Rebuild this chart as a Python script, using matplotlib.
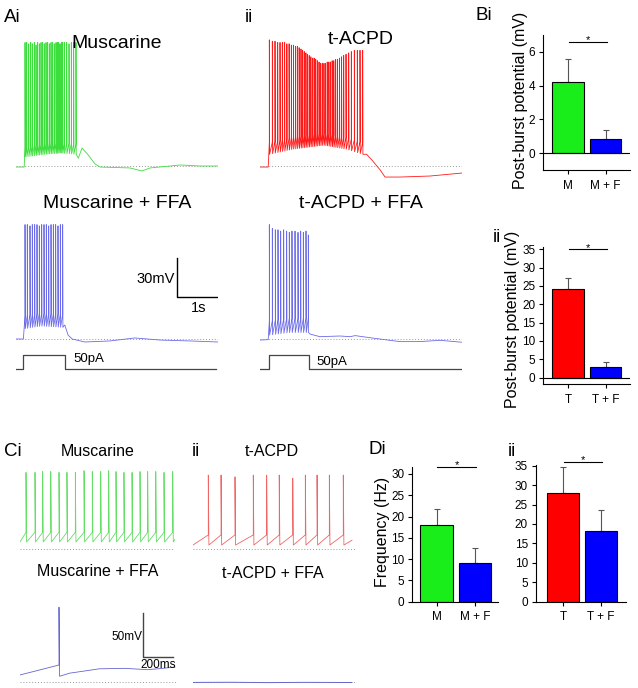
import numpy as np
import matplotlib
matplotlib.use('Agg')
import matplotlib.pyplot as plt

plt.rcParams['font.family'] = ['Liberation Sans', 'DejaVu Sans']

# ---------------- data: panel A (time in s, voltage in mV above dotted baseline)
musc_pre_t = [0.0, 0.2]
musc_pre_v = [-0.8, -0.8]
musc_spk_t = [0.220, 0.260, 0.309, 0.358, 0.398, 0.447, 0.488, 0.528, 0.569, 0.610,
              0.650, 0.691, 0.732, 0.772, 0.813, 0.854, 0.894, 0.935, 0.976, 1.008,
              1.041, 1.073, 1.106, 1.138, 1.179, 1.236, 1.293, 1.350, 1.406, 1.463]
musc_spk_v = [95, 95, 94, 95, 94, 95, 93, 95, 94, 95, 95, 94, 95, 95, 94,
              95, 95, 94, 95, 95, 95, 94, 95, 95, 95, 95, 94, 95, 95, 95]
musc_floor_t = [0.22, 0.7, 1.1, 1.46]
musc_floor_v = [7, 9, 10, 9]
musc_post_t = [1.52, 1.61, 1.76, 1.93, 2.05, 2.78, 3.07, 3.27, 3.76, 4.0, 4.49, 4.93]
musc_post_v = [6, 13.8, 8.5, 1.5, -0.8, -1.5, -3.8, -1.5, 0, 0.8, 0, 0]

acpd_pre_t = [0.0, 0.2]
acpd_pre_v = [-0.8, -0.8]
acpd_spk_t = [0.228, 0.301, 0.366, 0.431, 0.488, 0.545, 0.600, 0.655, 0.710, 0.765,
              0.815, 0.865, 0.910, 0.955, 1.000, 1.040, 1.080, 1.120, 1.160, 1.200,
              1.240, 1.280, 1.320, 1.360, 1.400, 1.440, 1.480, 1.520, 1.560, 1.600,
              1.640, 1.680, 1.720, 1.760, 1.800, 1.845, 1.890, 1.940, 1.990, 2.041,
              2.098, 2.163, 2.228, 2.301, 2.374, 2.439, 2.504]
acpd_spk_v = [97, 96, 96, 95, 95, 95, 95, 94, 94, 93, 93, 92, 92, 91, 90, 89, 88, 87, 86, 85,
              84, 83, 83, 82, 81, 80, 79, 79, 79, 79, 80, 80, 80, 81, 81, 82, 82, 83, 84, 85,
              86, 87, 88, 89, 89, 89, 89]
acpd_floor_t = [0.228, 0.8, 1.55, 2.1, 2.5]
acpd_floor_v = [9, 13, 16, 13, 9]
acpd_post_t = [2.6, 2.73, 2.93, 3.05, 3.41, 4.15, 4.93]
acpd_post_v = [9, 4.6, -3, -8.5, -8.5, -7.7, -5.4]

muscffa_pre_t = [0.0, 0.18]
muscffa_pre_v = [0, 0]
muscffa_spk_t = [0.220, 0.276, 0.341, 0.398, 0.455, 0.512, 0.569, 0.626, 0.683,
                 0.740, 0.797, 0.854, 0.911, 0.967, 1.024, 1.081, 1.138]
muscffa_spk_v = [88, 88, 87, 88, 88, 88, 87, 88, 88, 88, 87, 88, 88, 88, 87, 88, 88]
muscffa_floor_t = [0.22, 0.6, 1.14]
muscffa_floor_v = [8, 10, 9]
muscffa_post_t = [1.19, 1.27, 1.37, 1.68, 2.29, 2.9, 3.51, 4.24, 4.93]
muscffa_post_v = [10.8, 3, 0, -2.3, -1.5, 0.8, -0.8, -1.5, -2.3]

acpdffa_pre_t = [0.0, 0.2]
acpdffa_pre_v = [-0.8, -0.5]
acpdffa_spk_t = [0.228, 0.301, 0.374, 0.439, 0.504, 0.577, 0.650, 0.715, 0.780,
                 0.854, 0.927, 0.992, 1.057, 1.122, 1.179]
acpdffa_spk_v = [88, 85, 84, 84, 83, 84, 83, 82, 83, 83, 82, 83, 82, 83, 80]
acpdffa_floor_t = [0.228, 0.7, 1.18]
acpdffa_floor_v = [3, 5, 5]
acpdffa_post_t = [1.22, 1.46, 1.95, 2.2, 2.32, 2.8, 3.41, 3.9, 4.39, 4.93]
acpdffa_post_v = [3.8, 1.8, 2.3, 1.8, 2.6, 0.5, -2, -2, -1, -2.5]

# injected current (pA)
step_i_t = [0, 0.18, 0.18, 1.195, 1.195, 4.88]
step_ii_t = [0, 0.228, 0.228, 1.195, 1.195, 4.93]
step_amp = [0, 0, 50, 50, 0, 0]

# ---------------- data: panel C
cmusc_spk_t = [0.040, 0.100, 0.151, 0.205, 0.260, 0.313, 0.369, 0.427, 0.482, 0.538,
               0.591, 0.640, 0.693, 0.747, 0.800, 0.851, 0.905, 0.960, 1.018]
cmusc_spk_v = [87, 87, 88, 88, 87, 87, 87, 89, 88, 88, 89, 88, 87, 87, 88, 88, 88, 87, 88]
cacpd_spk_t = [0.102, 0.187, 0.280, 0.402, 0.491, 0.575, 0.665, 0.749, 0.827, 0.909, 1.002]
cacpd_spk_v = [84, 84, 82, 84, 84, 84, 80.5, 84, 84, 84, 84]
cmuscffa_spk_t = [0.26]
cmuscffa_spk_v = [85]
cmuscffa_post_t = [0.33, 0.45, 0.53, 0.7, 0.85, 0.95, 1.033]
cmuscffa_post_v = [10, 13, 15, 15.5, 14, 15.5, 17]
cacpdffa_t = [0, 0.25, 0.5, 0.75, 1.06]
cacpdffa_v = [-0.5, -0.3, -0.7, -0.4, -0.6]

# ---------------- data: bar panels
bi_labels = ['M', 'M + F']
bi_vals = [4.2, 0.85]
bi_err = [1.4, 0.5]
bii_labels = ['T', 'T + F']
bii_vals = [24.3, 3.0]
bii_err = [2.8, 1.2]
di_vals = [18.1, 9.1]
di_err = [3.6, 3.4]
dii_vals = [28.0, 18.3]
dii_err = [6.7, 5.3]

GREEN, RED, BLUE = '#1aee1a', '#ff0000', '#0000ff'

W, H = 638, 688
fig = plt.figure(figsize=(W / 100, H / 100), dpi=100)


def px_axes(left, top, right, bottom):
    return fig.add_axes([left / W, 1 - bottom / H, (right - left) / W, (bottom - top) / H])


def ftext(x, y, s, **kw):
    fig.text(x / W, 1 - y / H, s, **kw)


def trace_axes(left, right, top, bottom, base_y, px_s, px_mv):
    ax = px_axes(left, top, right, bottom)
    ax.set_xlim(0, (right - left) / px_s)
    ax.set_ylim((base_y - bottom) / px_mv, (base_y - top) / px_mv)
    ax.axis('off')
    return ax


def build_trace(pre_t, pre_v, spk_t, spk_v, floor_t, floor_v, ramp, post_t, post_v, width):
    base = np.interp(spk_t, floor_t, floor_v)
    t, v = list(pre_t), list(pre_v)
    for ts, pk, fl in zip(spk_t, spk_v, base):
        t += [ts, ts, ts + width]
        v += [fl + ramp, pk, fl]
    return t + list(post_t), v + list(post_v)


def dotted(ax):
    ax.axhline(0, color='#999999', lw=0.7, ls=(0, (1, 2)), zorder=0)


# ---------------- panel A traces (41 px/s, 1.3 px/mV)
ax = trace_axes(16, 218, 30, 180, 166, 41, 1.3)
dotted(ax)
t, v = build_trace(musc_pre_t, musc_pre_v, musc_spk_t, musc_spk_v, musc_floor_t,
                   musc_floor_v, 8, musc_post_t, musc_post_v, 0.006)
ax.plot(t, v, color='#3ddd3d', lw=0.6)

ax = trace_axes(260, 462, 30, 185, 166, 41, 1.3)
dotted(ax)
t, v = build_trace(acpd_pre_t, acpd_pre_v, acpd_spk_t, acpd_spk_v, acpd_floor_t,
                   acpd_floor_v, 9, acpd_post_t, acpd_post_v, 0.006)
ax.plot(t, v, color='#ff1a1a', lw=0.6)

ax = trace_axes(16, 218, 215, 348, 339, 41, 1.3)
dotted(ax)
t, v = build_trace(muscffa_pre_t, muscffa_pre_v, muscffa_spk_t, muscffa_spk_v, muscffa_floor_t,
                   muscffa_floor_v, 10, muscffa_post_t, muscffa_post_v, 0.006)
ax.plot(t, v, color='#6b6be8', lw=0.6)
# scale bar 1 s / 30 mV
ax.plot([3.927, 3.927, 4.927], [62.3, 32.3, 32.3], color='black', lw=1.0)

ax = trace_axes(260, 462, 215, 348, 339, 41, 1.3)
dotted(ax)
t, v = build_trace(acpdffa_pre_t, acpdffa_pre_v, acpdffa_spk_t, acpdffa_spk_v, acpdffa_floor_t,
                   acpdffa_floor_v, 11, acpdffa_post_t, acpdffa_post_v, 0.006)
ax.plot(t, v, color='#6b6be8', lw=0.6)

# current steps (0.28 px/pA)
for left, right, st in [(16, 218, step_i_t), (260, 462, step_ii_t)]:
    ax = trace_axes(left, right, 345, 375, 369, 41, 0.28)
    ax.plot(st, step_amp, color='#444444', lw=0.9)

ftext(4, 18, 'Ai', fontsize=13.5, ha='left', va='center')
ftext(245, 18, 'ii', fontsize=13.5, ha='left', va='center')
ftext(117, 44, 'Muscarine', fontsize=14, ha='center', va='center')
ftext(361, 40, 't-ACPD', fontsize=14, ha='center', va='center')
ftext(117, 203, 'Muscarine + FFA', fontsize=14, ha='center', va='center')
ftext(361, 203, 't-ACPD + FFA', fontsize=14, ha='center', va='center')
ftext(175, 279, '30mV', fontsize=10.5, ha='right', va='center')
ftext(199, 308, '1s', fontsize=10.5, ha='center', va='center')
ftext(73, 359, '50pA', fontsize=9.5, ha='left', va='center')
ftext(316, 362, '50pA', fontsize=9.5, ha='left', va='center')

# ---------------- panel C traces (150 px/s, 0.88 px/mV)
ax = trace_axes(20, 175, 460, 556, 549, 150, 0.88)
dotted(ax)
t, v = build_trace([0.0], [8], cmusc_spk_t, cmusc_spk_v, [0, 2], [8, 8], 11,
                   [1.033], [11], 0.004)
ax.plot(t, v, color='#66dd66', lw=0.6)

ax = trace_axes(193, 355, 460, 556, 549, 150, 0.88)
dotted(ax)
t, v = build_trace([0.0], [4.5], cacpd_spk_t, cacpd_spk_v, [0, 2], [4.5, 4.5], 11.5,
                   [1.06], [10], 0.004)
ax.plot(t, v, color='#ee6666', lw=0.6)

ax = trace_axes(20, 178, 595, 688, 682, 150, 0.88)
dotted(ax)
t, v = build_trace([0.0], [8], cmuscffa_spk_t, cmuscffa_spk_v, [0, 2], [6.5, 6.5], 12.8,
                   cmuscffa_post_t, cmuscffa_post_v, 0.004)
ax.plot(t, v, color='#6666cc', lw=0.6)
# scale bar 200 ms / 50 mV
ax.plot([0.82, 0.82, 1.02], [78.4, 28.4, 28.4], color='#444444', lw=1.0)

ax = trace_axes(193, 355, 595, 688, 682, 150, 0.88)
dotted(ax)
ax.plot(cacpdffa_t, cacpdffa_v, color='#6666cc', lw=0.7)

ftext(4, 452, 'Ci', fontsize=13.5, ha='left', va='center')
ftext(192, 452, 'ii', fontsize=13.5, ha='left', va='center')
ftext(98, 451, 'Muscarine', fontsize=11.5, ha='center', va='center')
ftext(272, 451, 't-ACPD', fontsize=11.5, ha='center', va='center')
ftext(98, 572, 'Muscarine + FFA', fontsize=11.5, ha='center', va='center')
ftext(273, 573, 't-ACPD + FFA', fontsize=11.5, ha='center', va='center')
ftext(142, 637, '50mV', fontsize=8.5, ha='right', va='center')
ftext(158, 665, '200ms', fontsize=8.5, ha='center', va='center')


# ---------------- bar panels
def bar_panel(box, vals, errs, labels, colors, xlim, ylim, yticks, sig_y, zero_line=False):
    ax = px_axes(*box)
    x = np.arange(len(vals))
    ax.bar(x, vals, width=0.85, color=colors, edgecolor='black', lw=0.8, zorder=2)
    ax.errorbar(x, vals, yerr=[np.zeros(len(vals)), errs], fmt='none', ecolor='#555555',
                elinewidth=0.8, capsize=2.5, capthick=0.8, zorder=1)
    if zero_line:
        ax.axhline(0, color='black', lw=0.8, zorder=3)
    ax.set_xlim(*xlim)
    ax.set_ylim(*ylim)
    ax.set_yticks(yticks)
    ax.set_xticks(x)
    ax.set_xticklabels(labels)
    for s in ['top', 'right']:
        ax.spines[s].set_visible(False)
    for s in ['left', 'bottom']:
        ax.spines[s].set_linewidth(0.8)
    ax.tick_params(labelsize=8.5, length=3, width=0.8, pad=2.5)
    ax.tick_params(axis='x', pad=4)
    ax.plot([0.02, 1.03], [sig_y, sig_y], color='black', lw=0.8, clip_on=False)
    ax.annotate('*', (0.52, sig_y), xytext=(0, -1), textcoords='offset points',
                ha='center', va='baseline', fontsize=8, annotation_clip=False)
    return ax


bar_panel((543, 35, 630, 170), bi_vals, bi_err, bi_labels, [GREEN, BLUE],
          (-0.667, 1.653), (-1, 7), [0, 2, 4, 6], 6.6, zero_line=True)
bar_panel((543, 247.4, 630, 384.3), bii_vals, bii_err, bii_labels, [RED, BLUE],
          (-0.667, 1.653), (-1.8, 35.5), np.arange(0, 36, 5), 35, zero_line=True)
bar_panel((412, 466.7, 498, 601.7), di_vals, di_err, bi_labels, [GREEN, BLUE],
          (-0.647, 1.605), (0, 31.7), np.arange(0, 31, 5), 31.7)
bar_panel((535.7, 464.9, 626, 601.7), dii_vals, dii_err, bii_labels, [RED, BLUE],
          (-0.72, 1.66), (0, 35.2), np.arange(0, 36, 5), 35.9)

ftext(475, 15, 'Bi', fontsize=13.5, ha='left', va='center')
ftext(493, 237, 'ii', fontsize=13.5, ha='left', va='center')
ftext(368, 450, 'Di', fontsize=13.5, ha='left', va='center')
ftext(508, 451, 'ii', fontsize=13.5, ha='left', va='center')
ftext(520, 100, 'Post-burst potential (mV)', fontsize=11.5, rotation=90, ha='center', va='center')
ftext(513, 319, 'Post-burst potential (mV)', fontsize=11.5, rotation=90, ha='center', va='center')
ftext(383, 532, 'Frequency (Hz)', fontsize=11.5, rotation=90, ha='center', va='center')

fig.savefig('out.png', dpi=100)
